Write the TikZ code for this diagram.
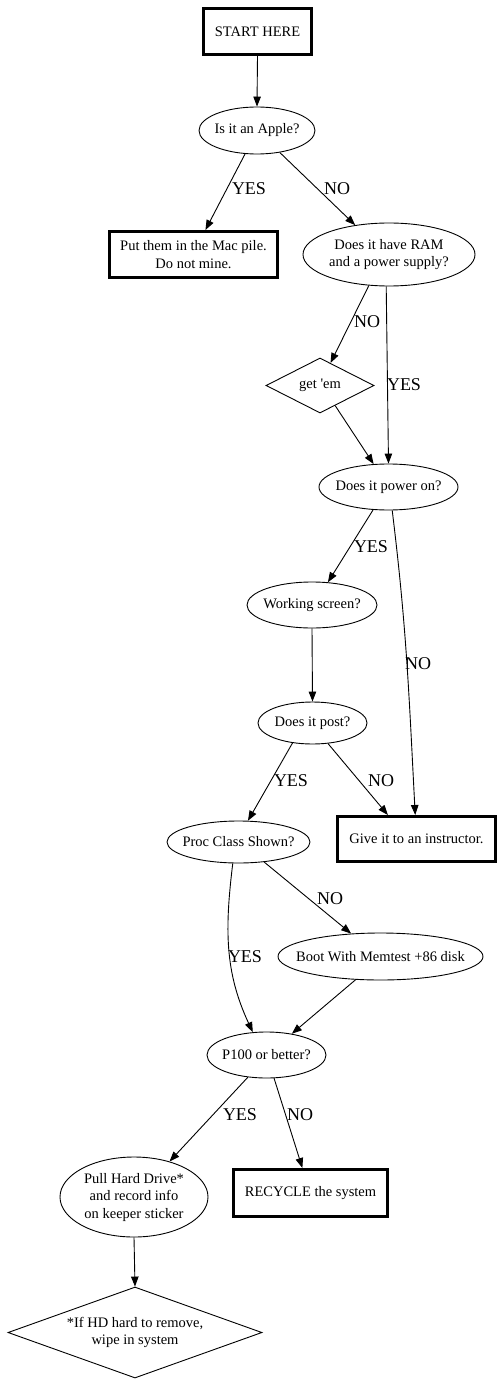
\documentclass[tikz,border=0pt]{standalone}
\usepackage{fontspec}
\setmainfont{Liberation Serif}
\usetikzlibrary{shapes.geometric,arrows.meta}
\begin{document}
\begin{tikzpicture}[x=1pt,y=-1pt,
  every node/.style={font=\fontsize{14.5}{17.5}\selectfont, inner sep=0pt, align=center},
  termbox/.style={draw, rectangle, line width=3pt},
  oval/.style={draw, ellipse, line width=0.9pt, inner xsep=-80pt, inner ysep=-40pt},
  dmd/.style={draw, diamond, line width=0.9pt, inner xsep=-90pt, inner ysep=-40pt},
  flow/.style={line width=0.9pt, -{Triangle[length=10pt,width=7.5pt]}},
  lbl/.style={font=\fontsize{18}{20}\selectfont}]
\fill[white] (0,0) rectangle (503,1396);
\useasboundingbox (0,0) rectangle (503,1396);

% nodes
\node[termbox, minimum width=108pt, minimum height=46pt] (start) at (257.5,31.5) {START HERE};
\node[oval, minimum width=116pt, minimum height=47pt] (apple) at (257,130.5) {Is it an Apple?};
\node[termbox, minimum width=168pt, minimum height=46pt] (mac) at (193.5,254.5) {Put them in the Mac pile.\\Do not mine.};
\node[oval, minimum width=172pt, minimum height=63pt] (ram) at (389,254.5) {Does it have RAM\\and a power supply?};
\node[dmd, minimum width=108pt, minimum height=55pt] (getem) at (320,385.5) {get \textquotesingle em};
\node[oval, minimum width=139pt, minimum height=46pt] (power) at (388.5,487) {Does it power on?};
\node[oval, minimum width=130pt, minimum height=46pt] (working) at (312,605) {Working screen?};
\node[oval, minimum width=109pt, minimum height=42pt] (post) at (312.5,723) {Does it post?};
\node[termbox, minimum width=158pt, minimum height=45pt] (give) at (416.5,839) {Give it to an instructor.};
\node[oval, minimum width=143pt, minimum height=42pt] (proc) at (238.5,842) {Proc Class Shown?};
\node[oval, minimum width=205pt, minimum height=47pt] (memtest) at (380.5,956.5) {Boot With Memtest +86 disk};
\node[oval, minimum width=119pt, minimum height=46pt] (p100) at (266.5,1055) {P100 or better?};
\node[oval, minimum width=148pt, minimum height=80pt] (pull) at (134,1197) {Pull Hard Drive*\\and record info\\on keeper sticker};
\node[termbox, minimum width=154pt, minimum height=47pt] (recycle) at (310.5,1193) {RECYCLE the system};
\node[dmd, minimum width=254pt, minimum height=91pt] (hd) at (135,1332.5) {*If HD hard to remove,\\wipe in system};

% edges
\draw[flow] (start.south) -- (apple.north);
\draw[flow] (apple.-117) -- (mac.64);
\draw[flow] (apple.-44) -- (ram.139);
\draw[flow] (ram.-123) -- (getem.65);
\draw[flow] (ram.-95) -- (power.north);
\draw[flow] (getem.-53) -- (power.123);
\draw[flow] (power.-124) -- (working.55);
\draw[flow] (power.-81) to[out=-83,in=93] (give.93);
\draw[flow] (working.south) -- (post.north);
\draw[flow] (post.-135) -- (proc.66);
\draw[flow] (post.-53) -- (give.140);
\draw[flow] (proc.-38) -- (memtest.142);
\draw[flow] (proc.-105) to[out=-97,in=115] (p100.121);
\draw[flow] (memtest.-137) -- (p100.40);
\draw[flow] (p100.-130) -- (pull.45);
\draw[flow] (p100.-72) -- (recycle.108);
\draw[flow] (pull.south) -- (hd.north);

% edge labels
\node[lbl] (l1) at (249,189) {YES};
\node[lbl] (l2) at (337,189) {NO};
\node[lbl] (l3) at (367,322) {NO};
\node[lbl] (l4) at (404,385) {YES};
\node[lbl] (l5) at (371,547) {YES};
\node[lbl] (l6) at (418,664) {NO};
\node[lbl] (l7) at (291,781) {YES};
\node[lbl] (l8) at (381,781) {NO};
\node[lbl] (l9) at (330,899) {NO};
\node[lbl] (l10) at (245,957) {YES};
\node[lbl] (l11) at (240,1115) {YES};
\node[lbl] (l12) at (300,1115) {NO};
\end{tikzpicture}
\end{document}
